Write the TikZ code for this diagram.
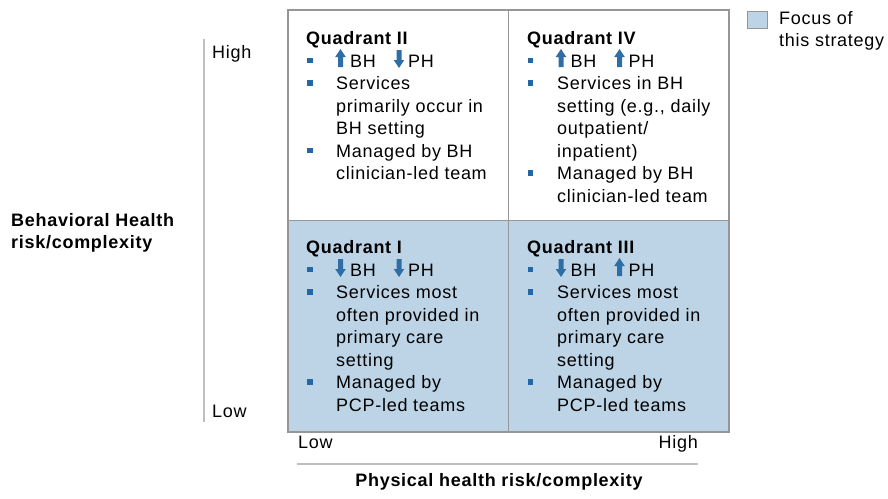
\documentclass[tikz,border=0pt]{standalone}
\usepackage{fontspec}
\setmainfont[LetterSpace=4]{Liberation Sans}
\definecolor{qblue}{HTML}{BCD4E6}
\definecolor{qgray}{HTML}{969696}
\definecolor{axgray}{HTML}{BFBFBF}
\definecolor{bulblue}{HTML}{2467A8}
\definecolor{arrblue}{HTML}{2F6EA5}
\tikzset{
  txt/.style={anchor=base west, inner sep=0pt, font=\fontsize{18}{22.5}\selectfont},
  btxt/.style={txt, font=\fontsize{18}{22.5}\selectfont\bfseries},
  bul/.style={fill=bulblue, minimum size=5.5pt, inner sep=0pt, draw=none},
  uparr/.pic={\fill[arrblue] (-2.5,0) -- (-2.5,-10) -- (-5.3,-10) -- (0,-18) -- (5.3,-10) -- (2.5,-10) -- (2.5,0) -- cycle;},
  dnarr/.pic={\fill[arrblue] (-2.5,-17) -- (-2.5,-7) -- (-5.3,-7) -- (0,1) -- (5.3,-7) -- (2.5,-7) -- (2.5,-17) -- cycle;}
}
\begin{document}
\begin{tikzpicture}[x=1pt,y=-1pt]
\useasboundingbox (0,0) rectangle (888,498);
% grid
\fill[qblue] (288,220.5) rectangle (729,432);
\draw[qgray, line width=1.4pt] (508.5,10) -- (508.5,432);
\draw[qgray, line width=1.4pt] (288,220.5) -- (729,220.5);
\draw[qgray, line width=1.6pt] (288,10) rectangle (729,432);
% axes
\draw[axgray, line width=1.4pt] (204,39) -- (204,422);
\draw[axgray, line width=1.4pt] (297,464) -- (698,464);
\node[txt] (yhigh) at (212,58) {High};
\node[txt] (ylow) at (212,417.5) {Low};
\node[txt] (xlow) at (298,448) {Low};
\node[txt, anchor=base east] (xhigh) at (698,448) {High};
\node[btxt, anchor=base] (xlab) at (499,486.5) {Physical health risk/complexity};
\node[btxt] (ylab1) at (11,226) {Behavioral Health};
\node[btxt] (ylab2) at (11,248) {risk/complexity};
% legend
\node[fill=qblue, draw=qgray, line width=1pt, minimum width=20pt, minimum height=17pt, inner sep=0pt] (legbox) at (757,20) {};
\node[txt] (leg1) at (779,24.5) {Focus of};
\node[txt] (leg2) at (779,46.5) {this strategy};
% Quadrant II
\node[btxt] (q2t) at (306,44.5) {Quadrant II};
\node[bul] (q2b1) at (310,60.7) {};
\pic at (340.5,67) {uparr};
\node[txt] (q2bh) at (350,67) {BH};
\pic at (399,67) {dnarr};
\node[txt] (q2ph) at (408,67) {PH};
\node[bul] (q2b2) at (310,83.2) {};
\node[txt] (q2l1) at (336,89.5) {Services};
\node[txt] (q2l2) at (336,112) {primarily occur in};
\node[txt] (q2l3) at (336,134.5) {BH setting};
\node[bul] (q2b3) at (310,150.7) {};
\node[txt] (q2l4) at (336,157) {Managed by BH};
\node[txt] (q2l5) at (336,179.5) {clinician-led team};
% Quadrant IV
\node[btxt] (q4t) at (527,44.5) {Quadrant IV};
\node[bul] (q4b1) at (530.5,60.7) {};
\pic at (561,67) {uparr};
\node[txt] (q4bh) at (570.5,67) {BH};
\pic at (619.5,67) {uparr};
\node[txt] (q4ph) at (628.5,67) {PH};
\node[bul] (q4b2) at (530.5,83.2) {};
\node[txt] (q4l1) at (557,89.5) {Services in BH};
\node[txt] (q4l2) at (557,112) {setting (e.g., daily};
\node[txt] (q4l3) at (557,134.5) {outpatient/};
\node[txt] (q4l4) at (557,157) {inpatient)};
\node[bul] (q4b3) at (530.5,173.2) {};
\node[txt] (q4l5) at (557,179.5) {Managed by BH};
\node[txt] (q4l6) at (557,202) {clinician-led team};
% Quadrant I
\node[btxt] (q1t) at (306,253.5) {Quadrant I};
\node[bul] (q1b1) at (310,269.7) {};
\pic at (340.5,276) {dnarr};
\node[txt] (q1bh) at (350,276) {BH};
\pic at (399,276) {dnarr};
\node[txt] (q1ph) at (408,276) {PH};
\node[bul] (q1b2) at (310,292.2) {};
\node[txt] (q1l1) at (336,298.5) {Services most};
\node[txt] (q1l2) at (336,321) {often provided in};
\node[txt] (q1l3) at (336,343.5) {primary care};
\node[txt] (q1l4) at (336,366) {setting};
\node[bul] (q1b3) at (310,382.2) {};
\node[txt] (q1l5) at (336,388.5) {Managed by};
\node[txt] (q1l6) at (336,411) {PCP-led teams};
% Quadrant III
\node[btxt] (q3t) at (527,253.5) {Quadrant III};
\node[bul] (q3b1) at (530.5,269.7) {};
\pic at (561,276) {dnarr};
\node[txt] (q3bh) at (570.5,276) {BH};
\pic at (619.5,276) {uparr};
\node[txt] (q3ph) at (628.5,276) {PH};
\node[bul] (q3b2) at (530.5,292.2) {};
\node[txt] (q3l1) at (557,298.5) {Services most};
\node[txt] (q3l2) at (557,321) {often provided in};
\node[txt] (q3l3) at (557,343.5) {primary care};
\node[txt] (q3l4) at (557,366) {setting};
\node[bul] (q3b3) at (530.5,382.2) {};
\node[txt] (q3l5) at (557,388.5) {Managed by};
\node[txt] (q3l6) at (557,411) {PCP-led teams};
\end{tikzpicture}
\end{document}
